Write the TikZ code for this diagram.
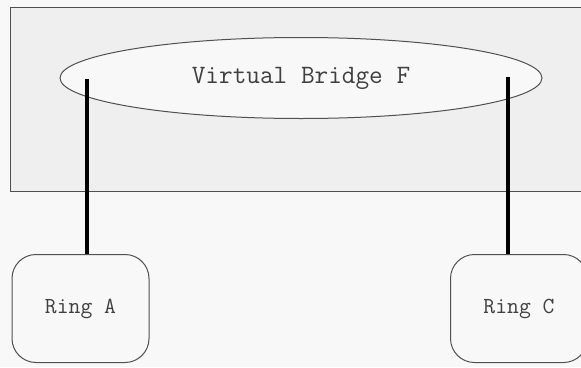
\documentclass[tikz,border=0pt]{standalone}
\usepackage{fontspec}
\usetikzlibrary{shapes.geometric}
\definecolor{bgc}{HTML}{F8F8F8}
\definecolor{boxc}{HTML}{EFEFEF}
\definecolor{linec}{HTML}{505050}
\definecolor{txtc}{HTML}{404040}
\tikzset{
  ringbox/.style={draw=linec, line width=1pt, fill=bgc, rounded corners=24pt, minimum width=137pt, minimum height=108pt, inner sep=0pt, text=txtc, font=\ttfamily\fontsize{23}{26}\selectfont},
  link/.style={line width=3.5pt, black}
}
\begin{document}
\begin{tikzpicture}[x=1pt,y=-1pt]
\useasboundingbox (0,0) rectangle (581,367);
\clip (0,0) rectangle (581,367);
\fill[bgc] (0,0) rectangle (581,367);
\node[draw=linec, line width=1pt, fill=boxc, minimum width=600pt, minimum height=184pt, inner sep=0pt, anchor=north west] (outer) at (10,7) {};
\node[ellipse, draw=linec, line width=1pt, fill=bgc, minimum width=482pt, minimum height=81pt, inner sep=0pt, text=txtc, font=\ttfamily\fontsize{26.5}{30}\selectfont] (vb) at (301,78) {Virtual Bridge F};
\node[ringbox] (ra) at (80.5,308.5) {Ring A};
\node[ringbox] (rc) at (519,308.5) {Ring C};
\coordinate (la) at (87,79);
\coordinate (lc) at (508,77);
\draw[link] (la) -- (la |- ra.north);
\draw[link] (lc) -- (lc |- rc.north);
\end{tikzpicture}
\end{document}
